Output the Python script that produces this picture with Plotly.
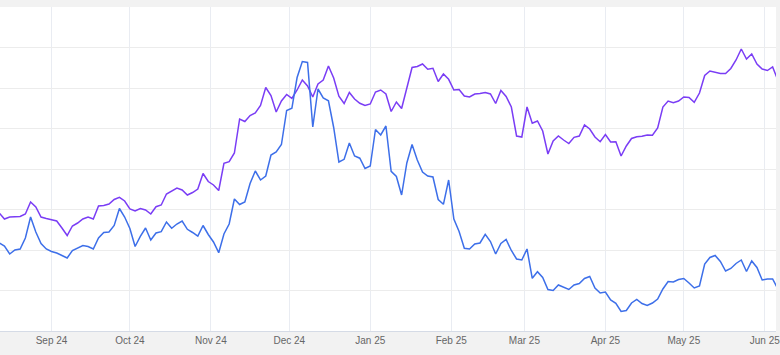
import pandas as pd
import plotly.graph_objects as go

# Two-day sampling from 12 Aug 2024
dates = pd.date_range("2024-08-12", periods=150, freq="2D")

purple = [
    118, 112, 114, 114, 114.5, 117, 129, 124, 114, 112.5,
    111, 110, 103, 95.5, 105, 108, 112, 114, 112, 125,
    125.5, 127, 131.5, 133.7, 130, 122, 120, 122.5, 121, 117,
    124.3, 126, 137, 140, 143, 141, 136, 138.5, 142, 157.5,
    149.5, 146, 140.5, 167.7, 169.3, 178, 212, 209.5, 215.5, 218,
    225.5, 243.5, 235.5, 219, 230, 236.5, 232.6, 241, 251, 245,
    234, 247, 251, 265, 253, 234.8, 227.5, 238.5, 232, 227.7,
    225.5, 227, 239, 241, 237, 219.5, 229, 222.5, 244, 263.5,
    264.5, 267, 261.7, 262.7, 249.5, 257, 251.7, 241, 241.5, 235,
    234, 237, 237.5, 238.5, 237, 227.5, 240.5, 234.5, 224, 195,
    194, 224, 207.7, 210, 200, 177, 190, 195, 191, 187.5,
    193.7, 195, 206, 202, 194, 189.3, 196.5, 189, 189.3, 175,
    185, 192.5, 194.3, 194.7, 196, 195.8, 203, 224, 230, 228.3,
    230, 234, 233.5, 228.7, 238, 255.5, 260, 259, 257.5, 257.5,
    262.5, 271, 282, 272, 277, 267, 262, 260.5, 264, 251,
]

blue = [
    88, 85, 77, 81, 82, 93, 114, 99, 87.5, 82,
    79.5, 78, 75.5, 73, 80.5, 82.7, 85.5, 84.5, 82, 93,
    98.5, 99, 105.5, 122.5, 114, 102.5, 84.5, 94.7, 103, 91,
    98, 99.3, 109, 102.7, 107, 110, 101.7, 98.5, 94.8, 105.5,
    96.5, 89, 78.3, 97, 107, 132, 126.5, 129, 147.5, 160,
    151, 155, 176, 179, 186.5, 220.5, 222.7, 253.5, 269.5, 268.5,
    204, 242, 233, 230.2, 203.5, 169, 171.7, 188, 175, 172.8,
    162.5, 165, 201.5, 196, 205, 159.7, 154.5, 136, 168, 186.5,
    171, 159, 155, 154, 131.5, 126.7, 151, 112, 99.5, 82.7,
    82, 87, 88, 96.7, 89.5, 77, 87.5, 91.5, 80.5, 72,
    71, 82, 52.7, 59.3, 53.5, 41.5, 40.5, 46, 43.7, 41.5,
    46, 47.5, 52.5, 54.5, 43, 38, 39, 31, 27.7, 19.5,
    20.5, 28, 31.5, 27.5, 25.5, 28, 32, 42, 49.5, 49,
    51.5, 52.5, 48, 43, 45, 67, 73.5, 75.5, 69.5, 60,
    62.5, 67.5, 71, 59.5, 70, 63.5, 51, 52, 52, 42,
]

fig = go.Figure()
fig.add_trace(go.Scatter(x=dates, y=purple, mode="lines",
                         line=dict(color="#7a3df5", width=1.5), showlegend=False))
fig.add_trace(go.Scatter(x=dates, y=blue, mode="lines",
                         line=dict(color="#3d6fe9", width=1.5), showlegend=False))

fig.update_layout(
    width=780, height=355,
    margin=dict(l=0, r=0, t=7, b=24),
    paper_bgcolor="#f2f2f2",
    plot_bgcolor="#ffffff",
    font=dict(family="Liberation Sans, Arial, sans-serif", size=10, color="#666666"),
    xaxis=dict(
        range=["2024-08-12 07:00", "2025-06-05 07:00"],
        tick0="2024-09-01", dtick="M1", tickformat="%b %y",
        ticklabeloverflow="allow",
        showgrid=True, gridcolor="#e9ecf2", gridwidth=1,
        showline=True, linecolor="#d5dbe6", linewidth=1,
        ticks="", zeroline=False,
    ),
    yaxis=dict(
        range=[0, 324], tick0=0, dtick=40.5,
        showticklabels=False, showgrid=True, gridcolor="#ececec", gridwidth=1,
        zeroline=False, showline=False, ticks="",
    ),
)

fig.write_html(
    "out.html",
    config={"displayModeBar": False},
    post_script="document.body.style.margin='0px';document.body.style.background='#f2f2f2';document.body.style.overflow='hidden';",
)
